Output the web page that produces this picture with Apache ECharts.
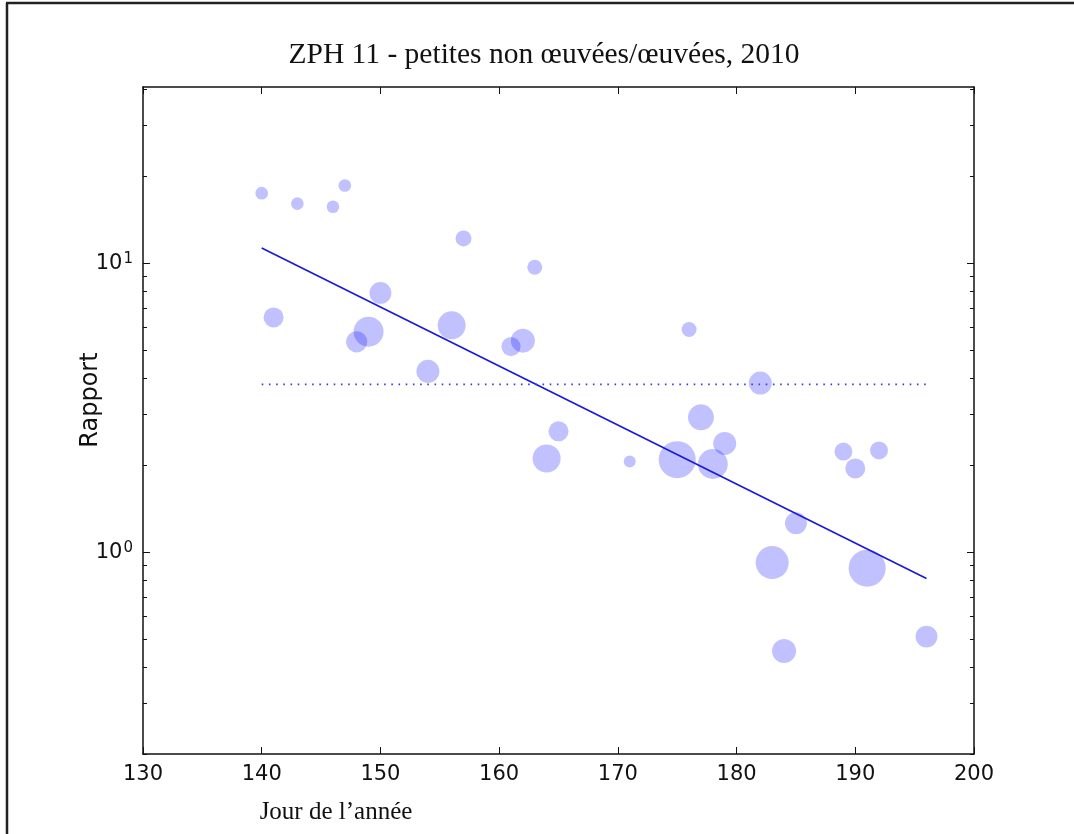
<!DOCTYPE html>
<html>
<head>
<meta charset="utf-8">
<title>ZPH 11 - petites non œuvées/œuvées, 2010</title>
<script src="https://cdn.jsdelivr.net/npm/echarts@6/dist/echarts.min.js"></script>
<style>
  html, body { margin: 0; padding: 0; background: #fff; }
  #chart { width: 1074px; height: 834px; }
</style>
</head>
<body>
<div id="chart"></div>
<script>
// Jour de l'année de chaque échantillon
const jours = [140, 143, 146, 147, 141, 150, 149, 148, 156, 154, 157, 163, 161, 162, 165, 164,
               171, 176, 175, 177, 178, 179, 182, 185, 183, 184, 189, 190, 192, 191, 196];
// Rapport petites non œuvées / œuvées
const rapports = [17.5, 16.1, 15.7, 18.6, 6.5, 7.9, 5.8, 5.35, 6.1, 4.23, 12.2, 9.7, 5.15, 5.4, 2.62, 2.11,
                  2.06, 5.9, 2.09, 2.93, 2.02, 2.38, 3.85, 1.26, 0.92, 0.455, 2.23, 1.95, 2.25, 0.88, 0.51];
// Effectif de chaque échantillon (taille des bulles)
const effectifs = [10, 10, 10, 10, 25, 30, 56, 28, 49, 33, 16, 14, 23, 36, 25, 49,
                   9, 14, 86, 42, 56, 33, 33, 30, 68, 36, 20, 25, 20, 86, 30];
// Ajustement exponentiel (extrémités) et moyenne
const ajustement = [[140, 11.3], [196, 0.81]];
const moyenne = 3.81;
const moyenneJours = [140, 196];

// Graduations
const xTicks = { min: 130, max: 200, step: 10 };
const yMin = 0.2, yMax = 40.8;
const yMajeures = [1, 10];
const yMineures = [0.2, 0.3, 0.4, 0.5, 0.6, 0.7, 0.8, 0.9, 2, 3, 4, 5, 6, 7, 8, 9, 20, 30, 40];

const points = jours.map((j, i) => [j, rapports[i], effectifs[i]]);

const axisLineStyle = { color: '#111', width: 1.5 };
const tickFont = { fontFamily: 'DejaVu Sans', fontSize: 21, color: '#111' };

function xAxisDef(pos, showLabel) {
  return {
    type: 'value', position: pos,
    min: xTicks.min, max: xTicks.max, interval: xTicks.step,
    axisLine: { show: true, onZero: false, lineStyle: axisLineStyle },
    axisTick: { show: true, inside: true, length: 7, lineStyle: { color: '#111', width: 1 } },
    axisLabel: Object.assign({ show: showLabel, margin: 10 }, tickFont),
    splitLine: { show: false }
  };
}

function yAxisDef(pos, values, len, withLabels, withLine) {
  const ax = {
    type: 'log', logBase: 10, position: pos,
    min: yMin, max: yMax,
    axisLine: { show: withLine, lineStyle: axisLineStyle },
    axisTick: { show: true, inside: true, length: len, customValues: values,
                lineStyle: { color: '#111', width: 1 } },
    axisLabel: { show: false },
    splitLine: { show: false },
    minorTick: { show: false }
  };
  if (withLabels) {
    ax.axisLabel = {
      show: true, margin: 10, customValues: yMajeures,
      formatter: v => '{b|10}{s|' + Math.round(Math.log10(v)) + '}',
      rich: {
        b: { fontFamily: 'DejaVu Sans', fontSize: 21, color: '#111', lineHeight: 23 },
        s: { fontFamily: 'DejaVu Sans', fontSize: 15, color: '#111', verticalAlign: 'top',
             padding: [0, 0, 0, 1] }
      }
    };
  }
  return ax;
}

const chart = echarts.init(document.getElementById('chart'), null, { renderer: 'canvas' });

chart.setOption({
  backgroundColor: '#fff',
  animation: false,
  grid: { left: 143, top: 87, right: 100, bottom: 80, containLabel: false },
  xAxis: [xAxisDef('bottom', true), xAxisDef('top', false)],
  yAxis: [
    yAxisDef('left', yMajeures, 7, true, true),
    yAxisDef('left', yMineures, 4, false, false),
    yAxisDef('right', yMajeures, 7, false, true),
    yAxisDef('right', yMineures, 4, false, false)
  ],
  graphic: [
    { type: 'line', shape: { x1: 6, y1: 3, x2: 1074, y2: 3 }, style: { stroke: '#222', lineWidth: 2.5 } },
    { type: 'line', shape: { x1: 7, y1: 3, x2: 7, y2: 834 }, style: { stroke: '#222', lineWidth: 2.5 } },
    { type: 'text', x: 544, y: 55,
      style: { text: 'ZPH 11 - petites non œuvées/œuvées, 2010', fontFamily: 'Liberation Serif',
               fontSize: 29.5, fill: '#111', textAlign: 'center', textVerticalAlign: 'middle' } },
    { type: 'text', x: 336, y: 812,
      style: { text: 'Jour de l\u2019année', fontFamily: 'Liberation Serif',
               fontSize: 25, fill: '#111', textAlign: 'center', textVerticalAlign: 'middle' } },
    { type: 'text', x: 91, y: 400, rotation: Math.PI / 2,
      style: { text: 'Rapport', fontFamily: 'DejaVu Sans',
               fontSize: 24, fill: '#111', textAlign: 'center', textVerticalAlign: 'middle' } }
  ],
  series: [
    {
      type: 'scatter', xAxisIndex: 0, yAxisIndex: 0,
      data: points,
      symbolSize: d => 4 * Math.sqrt(d[2]),
      itemStyle: { color: 'rgba(0,0,255,0.3)' },
      emphasis: { disabled: true }
    },
    {
      type: 'line', xAxisIndex: 0, yAxisIndex: 0,
      data: ajustement, symbol: 'none',
      lineStyle: { color: '#1a1ad8', width: 1.7 }
    },
    {
      type: 'line', xAxisIndex: 0, yAxisIndex: 0,
      data: moyenneJours.map(j => [j, moyenne]), symbol: 'none',
      lineStyle: { color: '#3a3ae0', width: 1.6, type: [1.6, 5.6] }
    }
  ]
});
</script>
</body>
</html>
